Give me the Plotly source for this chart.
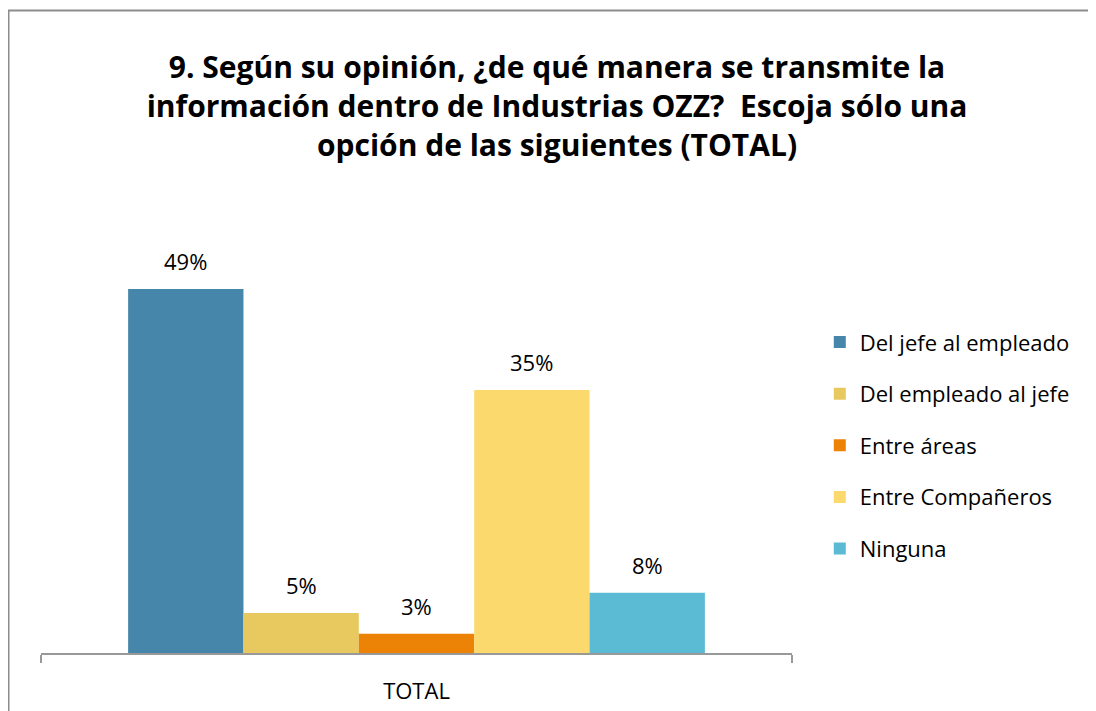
import plotly.graph_objects as go

categories = ["TOTAL"]
series_names = ["Del jefe al empleado", "Del empleado al jefe", "Entre áreas",
                "Entre Compañeros", "Ninguna"]
series_values = [49.0, 5.4, 2.6, 35.4, 8.1]
series_labels = ["49%", "5%", "3%", "35%", "8%"]
colors = ["#4786AB", "#E8C960", "#EC8206", "#FCD96C", "#5BBBD4"]

title_text = ("9. Según su opinión, ¿de qué manera se transmite la<br>"
              "información dentro de Industrias OZZ?  Escoja sólo una<br>"
              "opción de las siguientes (TOTAL)")

FONT = "Open Sans, sans-serif"

# layout geometry (pixels)
ML, MR, MT, MB = 33, 312, 237, 66
W, H = 1096, 711
BARGAP = 0.232
plot_w = W - ML - MR
plot_h = H - MT - MB
bar_px = plot_w * (1 - BARGAP) / len(series_values)

fig = go.Figure()
for i, (name, val, col) in enumerate(zip(series_names, series_values, colors)):
    fig.add_trace(go.Bar(
        x=categories, y=[val], name=name,
        marker=dict(color=col, line=dict(width=0)),
        legendgroup=f"g{i}",
    ))

annotations = []
for i, (val, lab) in enumerate(zip(series_values, series_labels)):
    annotations.append(dict(
        x=categories[0], y=val, xref="x", yref="y", text=lab, showarrow=False,
        xshift=(i - (len(series_values) - 1) / 2) * bar_px, yshift=28,
        xanchor="center", yanchor="middle",
        font=dict(family=FONT, size=22, color="#000000")))

fig.update_layout(
    width=W, height=H,
    margin=dict(l=ML, r=MR, t=MT, b=MB, pad=0),
    paper_bgcolor="white", plot_bgcolor="white",
    barmode="group", bargap=BARGAP, bargroupgap=0,
    title=dict(text=title_text, x=549 / W, xref="container",
               xanchor="center", y=0.902, yanchor="middle",
               font=dict(family=FONT, size=30, color="#000000", weight="bold")),
    font=dict(family=FONT, size=22, color="#000000"),
    showlegend=True,
    legend=dict(x=1.037, xanchor="left", y=0.813, yanchor="top",
                traceorder="grouped", tracegroupgap=20,
                font=dict(family=FONT, size=22, color="#000000"),
                bgcolor="rgba(0,0,0,0)"),
    xaxis=dict(showline=True, linecolor="#999999", linewidth=2,
               ticks="outside", tickson="boundaries", ticklen=8, tickcolor="#999999",
               tickwidth=2, ticklabelstandoff=18,
               tickfont=dict(family=FONT, size=22, color="#000000"),
               showgrid=False, zeroline=False),
    yaxis=dict(range=[0, plot_h / 7.43], visible=False, showgrid=False, zeroline=False),
    annotations=annotations,
    shapes=[dict(type="rect", xref="paper", yref="paper",
                 x0=(0.5 - ML) / plot_w, y0=-1.0, x1=2.0, y1=(plot_h + MT - 2.5) / plot_h,
                 line=dict(color="#8C8C8C", width=2), fillcolor="rgba(0,0,0,0)",
                 layer="below")],
)

fig.write_html("out.html")
